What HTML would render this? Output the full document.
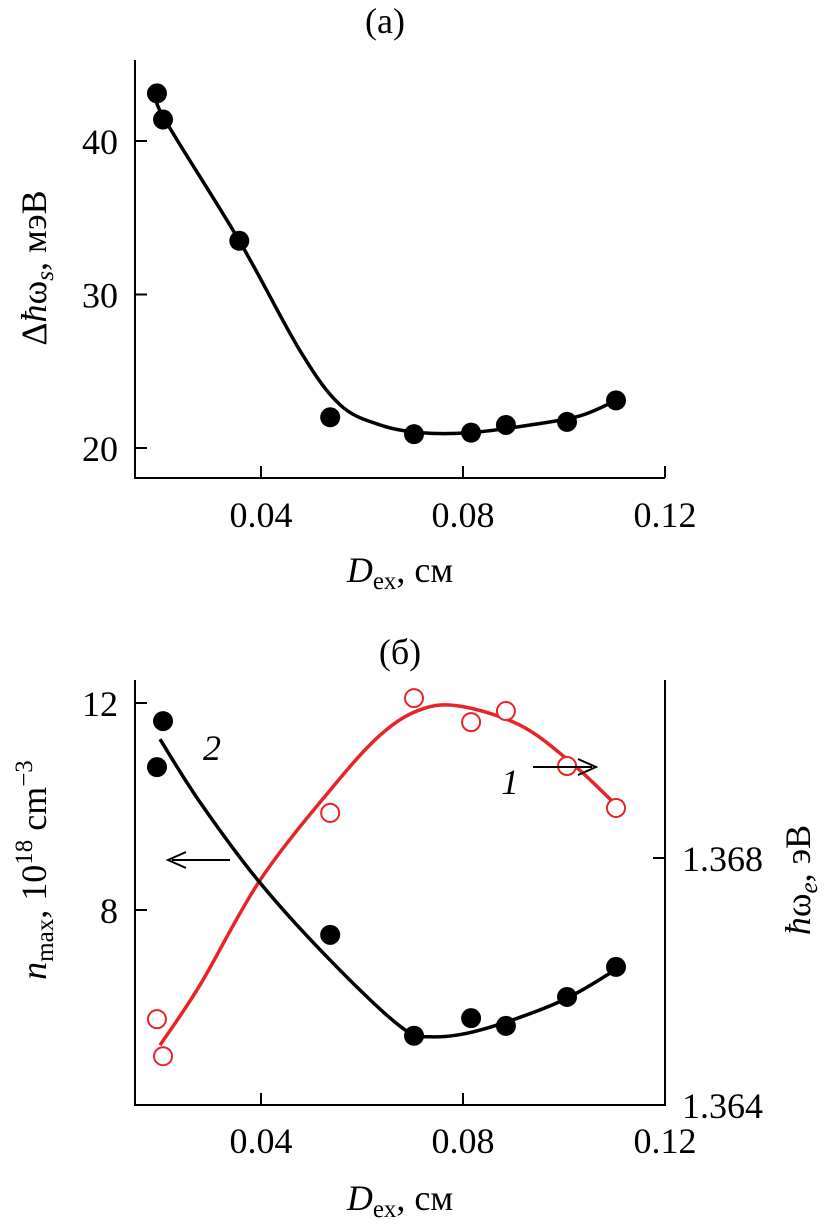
<!DOCTYPE html>
<html><head><meta charset="utf-8"><style>
body{margin:0;background:#fff}
svg{display:block;font-family:"Liberation Serif",serif}
</style></head><body>
<svg id="chart" width="840" height="1224" viewBox="0 0 840 1224">
<g id="a"></g>
<g id="b"></g>
</svg>
<script>
// Panel (a) data
const aX=[0.0194,0.0206,0.0357,0.0537,0.0703,0.0816,0.0885,0.1006,0.1103];
const aY=[43.1,41.4,33.5,22.0,20.9,21.0,21.5,21.7,23.1];
const aCurveX=[0.0200,0.0206,0.0357,0.0478,0.0557,0.0636,0.0715,0.0814,0.0933,0.1032,0.1103];
const aCurveY=[42.8,41.6,33.5,26.3,22.8,21.5,21.0,21.0,21.5,22.1,23.1];
const xTicks=[0.04,0.08,0.12];
const xTickLabels=["0.04","0.08","0.12"];
const aYTicks=[20,30,40];
// Panel (b) data
const bBlackX=[0.0194,0.0206,0.0537,0.0703,0.0816,0.0885,0.1006,0.1103];
const bBlackY=[10.76,11.65,7.52,5.57,5.91,5.76,6.32,6.90];
const bBlackCurveX=[0.0200,0.0278,0.0396,0.0537,0.0676,0.0735,0.0834,0.0992,0.1103];
const bBlackCurveY=[11.30,10.10,8.55,7.03,5.75,5.55,5.68,6.23,6.85];
const bRedX=[0.0194,0.0206,0.0537,0.0703,0.0816,0.0885,0.1006,0.1103];
const bRedY=[1.36539,1.36479,1.36873,1.37059,1.37020,1.37038,1.36949,1.36881];
const bRedCurveX=[0.0200,0.0279,0.0398,0.0537,0.0636,0.0715,0.0794,0.0913,0.1012,0.1103];
const bRedCurveY=[1.36497,1.36594,1.36764,1.36910,1.36999,1.37040,1.37046,1.37015,1.36956,1.36886];
const bLeftTicks=[8,12];
const bRightTicks=[1.364,1.368];

const NS="http://www.w3.org/2000/svg";
function el(p,t,a){const e=document.createElementNS(NS,t);for(const k in a)e.setAttribute(k,a[k]);p.appendChild(e);return e;}
const xs=v=>59+(v/0.04)*202;
const ayS=v=>141+(40-v)*15.35;
const byL=v=>703+(12-v)*51.75;
const byR=v=>858+(1.368-v)*61750;
function smooth(pts){let d=`M${pts[0][0]},${pts[0][1]}`;for(let i=0;i<pts.length-1;i++){const p0=pts[i-1]||pts[i],p1=pts[i],p2=pts[i+1],p3=pts[i+2]||p2;d+=` C${p1[0]+(p2[0]-p0[0])/6},${p1[1]+(p2[1]-p0[1])/6} ${p2[0]-(p3[0]-p1[0])/6},${p2[1]-(p3[1]-p1[1])/6} ${p2[0]},${p2[1]}`;}return d;}
function txt(g,x,y,s,name,extra){const t=el(g,'text',Object.assign({x:x,y:y,'font-size':36,'text-anchor':'middle'},extra||{}));t.innerHTML=s;return t;}

// Panel a
const A=document.getElementById('a');
let ax=el(A,'path',{d:'M135,60 V478 H665',fill:'none',stroke:'#000','stroke-width':2});

xTicks.forEach((v,i)=>{el(A,'line',{x1:xs(v),x2:xs(v),y1:478,y2:466,stroke:'#000','stroke-width':2});txt(A,xs(v),527,xTickLabels[i],'x-tick-label');});
aYTicks.forEach(v=>{el(A,'line',{x1:135,x2:147,y1:ayS(v),y2:ayS(v),stroke:'#000','stroke-width':2});txt(A,118,ayS(v)+13,String(v),'y-tick-label',{'text-anchor':'end'});});
let ca=el(A,'path',{d:smooth(aCurveX.map((v,i)=>[xs(v),ayS(aCurveY[i])])),fill:'none',stroke:'#000','stroke-width':3.5});

aX.forEach((v,i)=>{const c=el(A,'circle',{cx:xs(v),cy:ayS(aY[i]),r:10,fill:'#000'});});
txt(A,385,33,'(a)','panel-a-title');
txt(A,400,582,'<tspan font-style="italic">D</tspan><tspan font-size="25" dy="7">ex</tspan><tspan dy="-7">, см</tspan>','x-axis-title-a');
txt(A,0,0,'Δ<tspan font-style="italic">ħ</tspan>ω<tspan font-size="25" dy="7" font-style="italic">s</tspan><tspan dy="-7">, мэВ</tspan>','y-axis-title-a',{transform:'translate(46,268) rotate(-90)'});

// Panel b
const B=document.getElementById('b');
let bx=el(B,'path',{d:'M135,680 V1105 H665 V680',fill:'none',stroke:'#000','stroke-width':2});

xTicks.forEach((v,i)=>{el(B,'line',{x1:xs(v),x2:xs(v),y1:1105,y2:1093,stroke:'#000','stroke-width':2});txt(B,xs(v),1153,xTickLabels[i],'x-tick-label');});
bLeftTicks.forEach(v=>{el(B,'line',{x1:135,x2:147,y1:byL(v),y2:byL(v),stroke:'#000','stroke-width':2});txt(B,118,byL(v)+13,String(v),'left-tick-label',{'text-anchor':'end'});});
bRightTicks.forEach(v=>{el(B,'line',{x1:653,x2:665,y1:byR(v),y2:byR(v),stroke:'#000','stroke-width':2});txt(B,682,byR(v)+13,v.toFixed(3),'right-tick-label',{'text-anchor':'start'});});
let cr=el(B,'path',{d:smooth(bRedCurveX.map((v,i)=>[xs(v),byR(bRedCurveY[i])])),fill:'none',stroke:'#e8232a','stroke-width':3.5});

let cb=el(B,'path',{d:smooth(bBlackCurveX.map((v,i)=>[xs(v),byL(bBlackCurveY[i])])),fill:'none',stroke:'#000','stroke-width':3.5});

bBlackX.forEach((v,i)=>{const c=el(B,'circle',{cx:xs(v),cy:byL(bBlackY[i]),r:10,fill:'#000'});});
bRedX.forEach((v,i)=>{const c=el(B,'circle',{cx:xs(v),cy:byR(bRedY[i]),r:9,fill:'#fff',stroke:'#e8232a','stroke-width':2});});
txt(B,400,664,'(б)','panel-b-title');
txt(B,212,760,'2','label-2',{'font-style':'italic'});
txt(B,510,794,'1','label-1',{'font-style':'italic'});
let ar1=el(B,'path',{d:'M230,860 H172 M186,852 L168,860 L186,868',fill:'none',stroke:'#000','stroke-width':2});

let ar2=el(B,'path',{d:'M533,767 H592 M578,759 L596,767 L578,775',fill:'none',stroke:'#000','stroke-width':2});

txt(B,400,1210,'<tspan font-style="italic">D</tspan><tspan font-size="25" dy="7">ex</tspan><tspan dy="-7">, см</tspan>','x-axis-title-b');
txt(B,0,0,'<tspan font-style="italic">n</tspan><tspan font-size="25" dy="7">max</tspan><tspan dy="-7">, 10</tspan><tspan font-size="25" dy="-14">18</tspan><tspan dy="14"> cm</tspan><tspan font-size="25" dy="-14">−3</tspan>','left-axis-title',{transform:'translate(46,870) rotate(-90)'});
txt(B,0,0,'<tspan font-style="italic">ħ</tspan>ω<tspan font-size="25" dy="7" font-style="italic">e</tspan><tspan dy="-7">, эВ</tspan>','right-axis-title',{transform:'translate(810,880) rotate(-90)'});
</script>
</body></html>
